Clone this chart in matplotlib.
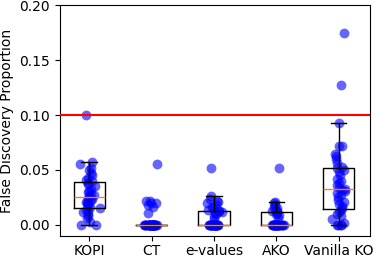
import matplotlib
matplotlib.use("Agg")
import matplotlib.pyplot as plt
import numpy as np

methods = ["KOPI", "CT", "e-values", "AKO", "Vanilla KO"]

kopi = [0, 0, 0.003, 0.006, 0.008, 0.010, 0.012, 0.013, 0.014, 0.015, 0.016,
        0.018, 0.019, 0.020, 0.021, 0.022, 0.023, 0.024, 0.024, 0.025, 0.026,
        0.027, 0.028, 0.030, 0.031, 0.033, 0.035, 0.037, 0.038, 0.040, 0.041,
        0.043, 0.045, 0.047, 0.050, 0.052, 0.055, 0.057, 0.100]
ct = [0] * 34 + [0.011, 0.016, 0.018, 0.020, 0.020, 0.022, 0.022, 0.055]
evalues = [0] * 24 + [0.005, 0.008, 0.010, 0.011, 0.012, 0.013, 0.013, 0.014,
                      0.015, 0.016, 0.018, 0.020, 0.021, 0.022, 0.024, 0.026, 0.052]
ako = [0] * 25 + [0.006, 0.009, 0.010, 0.011, 0.012, 0.013, 0.013, 0.014,
                  0.015, 0.016, 0.018, 0.020, 0.021, 0.052]
vanilla = [0, 0, 0, 0, 0.002, 0.005, 0.008, 0.010, 0.012, 0.014, 0.015, 0.017,
           0.019, 0.021, 0.023, 0.025, 0.027, 0.029, 0.031, 0.032, 0.033, 0.034,
           0.036, 0.038, 0.040, 0.042, 0.045, 0.048, 0.050, 0.052, 0.053, 0.056,
           0.060, 0.063, 0.065, 0.072, 0.072, 0.093, 0.127, 0.175]

data = [kopi, ct, evalues, ako, vanilla]

fig = plt.figure(figsize=(3.74, 2.57), dpi=100)
ax = fig.add_axes([0.16, 0.082, 0.829, 0.898])

# jitter only for display
rng = np.random.default_rng(3)
for i, d in enumerate(data):
    x = i + 1 + rng.normal(0, 0.05, len(d))
    ax.scatter(x, d, s=50, color="blue", alpha=0.6, linewidths=0, zorder=1)

ax.boxplot(data, positions=range(1, 6), widths=0.5, showfliers=False,
           zorder=3)
ax.axhline(0.1, color="red", lw=1.5, zorder=4)

ax.set_xticks(range(1, 6))
ax.set_xticklabels(methods)
ax.tick_params(axis="x", pad=2.5)
ax.set_xlim(0.53, 5.5)
ax.set_ylim(-0.01, 0.2)
ax.set_yticks([0, 0.05, 0.1, 0.15, 0.2])
ax.set_ylabel("False Discovery Proportion")

fig.savefig("out.png", dpi=100)
